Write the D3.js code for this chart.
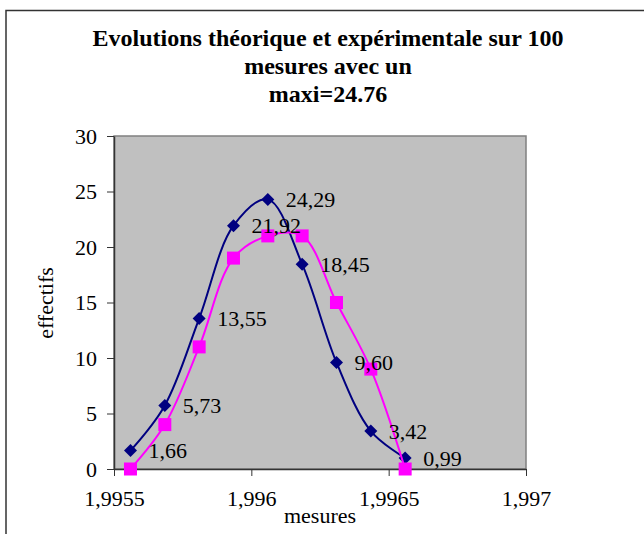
<!DOCTYPE html>
<html>
<head>
<meta charset="utf-8">
<script src="https://cdn.jsdelivr.net/npm/d3@7"></script>
<style>
  html, body { margin: 0; padding: 0; background: #fff; }
  svg { display: block; }
  text { font-family: "Liberation Serif", "Times New Roman", serif; fill: #000; }
</style>
</head>
<body>
<svg id="chart" width="644" height="534"></svg>
<script>
// ---- data ----
const mesures = [1.99556, 1.995685, 1.99581, 1.995935, 1.99606, 1.996185, 1.99631, 1.996435, 1.99656];
const theorique = [1.66, 5.73, 13.55, 21.92, 24.29, 18.45, 9.60, 3.42, 0.99];
const experimentale = [0, 4, 11, 19, 21, 21, 15, 9, 0];
const xTicks = [1.9955, 1.996, 1.9965, 1.997];
const xTickLabels = ["1,9955", "1,996", "1,9965", "1,997"];
const yTicks = [0, 5, 10, 15, 20, 25, 30];
const titleLines = ["Evolutions théorique et expérimentale sur 100", "mesures avec un", "maxi=24.76"];
const xTitle = "mesures";
const yTitle = "effectifs";

// ---- layout ----
const svg = d3.select("#chart");
const L = 114, R = 526, T = 136, B = 469;

const x = d3.scaleLinear().domain([1.9955, 1.997]).range([L, R]);
const y = d3.scaleLinear().domain([0, 30]).range([B, T]);

// outer chart border
svg.append("rect")
  .attr("x", 6).attr("y", 10.5).attr("width", 700).attr("height", 600)
  .attr("fill", "#fff").attr("stroke", "#333").attr("stroke-width", 1.5);

// title
svg.append("g").selectAll("text").data(titleLines).join("text")
  .attr("x", 328).attr("y", (d, i) => 46 + i * 28)
  .attr("text-anchor", "middle")
  .style("font-size", "24px").style("font-weight", "bold")
  .text(d => d);

// plot area
svg.append("rect")
  .attr("x", L).attr("y", T).attr("width", R - L).attr("height", B - T)
  .attr("fill", "#c0c0c0").attr("stroke", "#808080").attr("stroke-width", 1.5);

// axes
const xAxis = svg.append("g").attr("transform", `translate(0,${B})`)
  .call(d3.axisBottom(x).tickValues(xTicks).tickFormat((d, i) => xTickLabels[i]).tickSizeInner(7).tickSizeOuter(0).tickPadding(14));
const yAxis = svg.append("g").attr("transform", `translate(${L},0)`)
  .call(d3.axisLeft(y).tickValues(yTicks).tickSizeInner(7).tickSizeOuter(0).tickPadding(10));

[xAxis, yAxis].forEach(a => {
  a.select(".domain").attr("stroke", "#333").attr("stroke-width", 1.5);
  a.selectAll(".tick line").attr("stroke", "#333").attr("stroke-width", 1);
  a.selectAll(".tick text").attr("fill", "#000")
    .style("font-family", "'Liberation Serif', 'Times New Roman', serif")
    .style("font-size", "22px");
});
xAxis.selectAll(".tick text").attr("dy", "0.71em");

// axis titles
svg.append("text").attr("x", 320).attr("y", 523).attr("text-anchor", "middle")
  .style("font-size", "22px").text(xTitle);
svg.append("text").attr("transform", "translate(53,303) rotate(-90)").attr("text-anchor", "middle")
  .style("font-size", "22px").text(yTitle);

// series
const line = d3.line().curve(d3.curveCatmullRom.alpha(0.5))
  .x(d => x(d[0])).y(d => y(d[1]));

const blue = mesures.map((m, i) => [m, theorique[i]]);
const pink = mesures.map((m, i) => [m, experimentale[i]]);

svg.append("path").datum(blue).attr("d", line)
  .attr("fill", "none").attr("stroke", "#000080").attr("stroke-width", 2);
svg.append("g").selectAll("path").data(blue).join("path")
  .attr("transform", d => `translate(${x(d[0])},${y(d[1])})`)
  .attr("d", "M0,-6.5L6.5,0L0,6.5L-6.5,0Z")
  .attr("fill", "#000080");

svg.append("path").datum(pink).attr("d", line)
  .attr("fill", "none").attr("stroke", "#ff00ff").attr("stroke-width", 2);
svg.append("g").selectAll("rect").data(pink).join("rect")
  .attr("x", d => x(d[0]) - 6.5).attr("y", d => y(d[1]) - 6.5)
  .attr("width", 13).attr("height", 13)
  .attr("fill", "#ff00ff");

// data labels
svg.append("g").selectAll("text").data(blue).join("text")
  .attr("x", d => x(d[0]) + 18).attr("y", d => y(d[1]))
  .attr("dy", "0.35em")
  .style("font-size", "22px")
  .text(d => d[1].toFixed(2).replace(".", ","));
</script>
</body>
</html>
